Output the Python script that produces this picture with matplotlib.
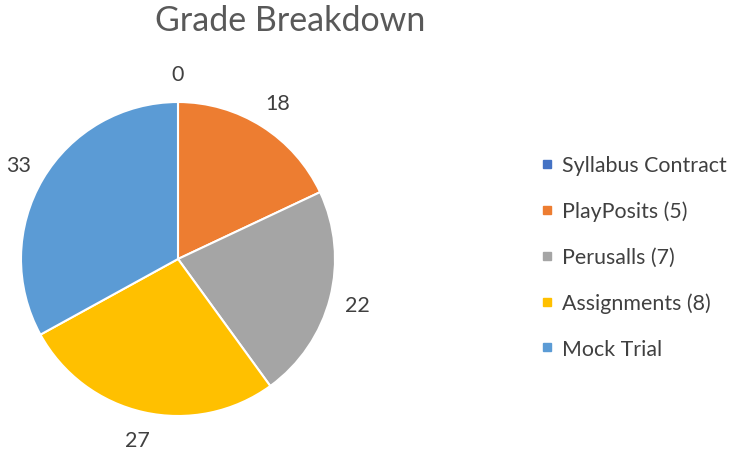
import matplotlib
matplotlib.use("Agg")
import matplotlib.pyplot as plt
from matplotlib.lines import Line2D

categories = ["Syllabus Contract", "PlayPosits (5)", "Perusalls (7)", "Assignments (8)", "Mock Trial"]
values = [0, 18, 22, 27, 33]
colors = ["#4472C4", "#ED7D31", "#A5A5A5", "#FFC000", "#5B9BD5"]
title = "Grade Breakdown"

plt.rcParams['font.family'] = ['Lato', 'DejaVu Sans']

W, H = 732, 452
fig = plt.figure(figsize=(W / 100, H / 100), dpi=100)
ax = fig.add_axes([0, 0, 1, 1])
ax.set_xlim(0, W)
ax.set_ylim(0, H)
ax.axis('off')

wedges, texts = ax.pie(values, colors=colors, startangle=90, counterclock=False,
                       center=(178, H - 260), radius=157,
                       labels=[str(v) for v in values], labeldistance=1.18,
                       wedgeprops=dict(edgecolor='white', linewidth=1.5),
                       textprops=dict(fontsize=15.5, color='#404040'))
for t in texts:
    t.set_ha('center')
    t.set_va('center')
ax.set_xlim(0, W)
ax.set_ylim(0, H)
ax.set_aspect('auto')

fig.text(290 / W, 1 - 21 / H, title, ha='center', va='center', fontsize=24.5, color='#595959')

handles = [Line2D([], [], marker='s', linestyle='none', markersize=6,
                  markerfacecolor=c, markeredgecolor=c) for c in colors]
fig.legend(handles, categories, loc='center left', bbox_to_anchor=(542 / W, 1 - 258 / H),
           frameon=False, fontsize=15.4, labelcolor='#404040', handlelength=0.5,
           handletextpad=0.45, labelspacing=1.2, borderaxespad=0, borderpad=0)

fig.savefig("out.png", dpi=100)
